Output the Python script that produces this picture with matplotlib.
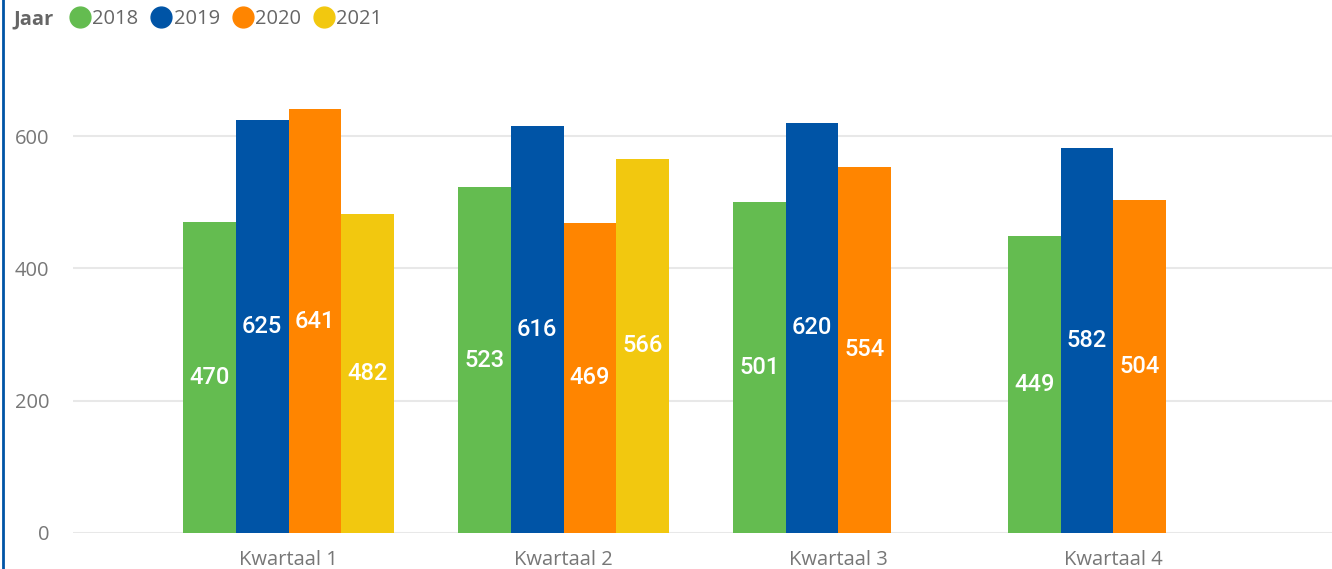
import numpy as np
import matplotlib.pyplot as plt
from matplotlib.lines import Line2D

# Data
kwartalen = ['Kwartaal 1', 'Kwartaal 2', 'Kwartaal 3', 'Kwartaal 4']
jaren = ['2018', '2019', '2020', '2021']
v2018 = [470, 523, 501, 449]
v2019 = [625, 616, 620, 582]
v2020 = [641, 469, 554, 504]
v2021 = [482, 566, None, None]
series = [v2018, v2019, v2020, v2021]
colors = ['#64BC50', '#0054A6', '#FF8500', '#F2C80F']

W, H = 1332, 569
fig = plt.figure(figsize=(W / 100, H / 100), dpi=100)
ax = fig.add_axes([73 / W, (H - 533) / H, (W - 73) / W, (533 - 70) / H])

x = np.arange(len(kwartalen))
bw = 0.1916
for i, (vals, c) in enumerate(zip(series, colors)):
    off = (i - 1.5) * bw
    for xi, v in zip(x, vals):
        if v is None:
            continue
        ax.bar(xi + off, v, width=bw, color=c, zorder=3)
        ax.text(xi + off, v / 2, str(v), ha='center', va='center',
                color='white', fontsize=17, fontweight='medium',
                family='Roboto', zorder=4)

ax.set_xlim(-0.784, 3.795)
ax.set_ylim(0, 700)
ax.set_yticks([0, 200, 400, 600])
ax.set_xticks(x)
ax.set_xticklabels(kwartalen)
ax.grid(axis='y', color='#E8E8E8', linewidth=1.5, zorder=0)
for s in ax.spines.values():
    s.set_visible(False)
ax.tick_params(length=0, labelsize=14.5, labelcolor='#777777')
ax.tick_params(axis='y', pad=17)
ax.tick_params(axis='x', pad=12)
for lab in ax.get_xticklabels() + ax.get_yticklabels():
    lab.set_family('Open Sans')

# Legend
fig.text(13 / W, 1 - 19 / H, 'Jaar', fontsize=14.5, fontweight='bold',
         color='#666666', va='center', family='Open Sans')
handles = [Line2D([], [], marker='o', linestyle='', markersize=15,
                  markerfacecolor=c, markeredgecolor=c) for c in colors]
leg = fig.legend(handles, jaren, loc='center left', ncol=4,
                 bbox_to_anchor=(66 / W, 1 - 19 / H), frameon=False,
                 handletextpad=-0.1, columnspacing=0.45, handlelength=1.4,
                 borderaxespad=0, borderpad=0,
                 prop={'family': 'Open Sans', 'size': 14.5})
for t in leg.get_texts():
    t.set_color('#666666')

# Left border
fig.add_artist(Line2D([2.5 / W, 2.5 / W], [0, 1], color='#0054A6',
                      linewidth=2, transform=fig.transFigure))

fig.savefig('out.png', dpi=100)
